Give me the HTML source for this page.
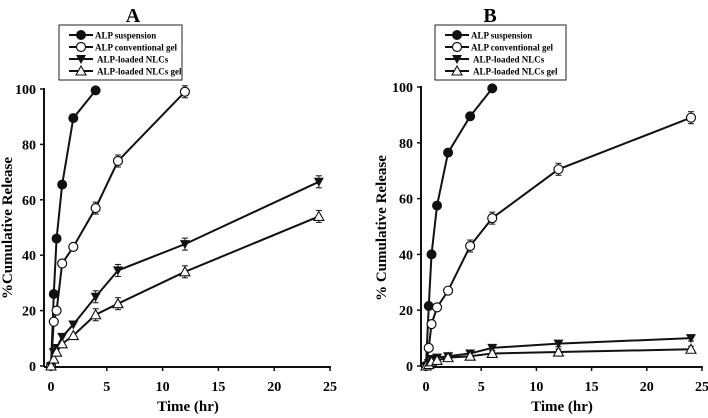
<!DOCTYPE html>
<html><head><meta charset="utf-8"><style>
body{margin:0;background:#fff}
svg{display:block;font-family:"Liberation Serif",serif;font-weight:bold}
</style></head><body>
<svg id="c" width="708" height="418" viewBox="0 0 708 418"></svg>
<script>
const times=[0,0.25,0.5,1,2,4,6,12,24];
const xTicks=[0,5,10,15,20,25];
const yTicks=[0,20,40,60,80,100];
const seriesNames=["ALP suspension","ALP conventional gel","ALP-loaded NLCs","ALP-loaded NLCs gel"];
const aSusp=[0,26,46,65.5,89.5,99.5];
const aConv=[0,16,20,37,43,57,74,99];
const aNlc=[0,5,6.5,10.5,15,25,34.5,44,66.5];
const aNlcGel=[0,2.5,5,8,11,18.5,22.5,34,54];
const bSusp=[0,21.5,40,57.5,76.5,89.5,99.5];
const bConv=[0,6.5,15,21,27,43,53,70.5,89];
const bNlc=[0,1,2.5,3,3.5,4.5,6.5,8,10];
const bNlcGel=[0,0.5,1.5,2,3,3.5,4.5,5,6];

const svg=document.getElementById('c');
const NS='http://www.w3.org/2000/svg';
function mk(tag,at,parent){const e=document.createElementNS(NS,tag);for(const k in at)e.setAttribute(k,at[k]);(parent||svg).appendChild(e);return e;}

function marker(g,type,x,y){
  let e;
  if(type===0){e=mk('circle',{cx:x,cy:y,r:4.5,fill:'#111',stroke:'#111'},g);}
  else if(type===1){e=mk('circle',{cx:x,cy:y,r:4.5,fill:'#fff',stroke:'#111','stroke-width':1.2},g);}
  else if(type===2){e=mk('polygon',{points:`${x-5},${y-4} ${x+5},${y-4} ${x},${y+5}`,fill:'#111'},g);}
  else {e=mk('polygon',{points:`${x-5},${y+4} ${x+5},${y+4} ${x},${y-5}`,fill:'#fff',stroke:'#111','stroke-width':1.1},g);}
  return e;
}

function panel(p){
  const g=mk('g',{});
  
  
  const X=v=>p.x0+(p.x25-p.x0)*v/25;
  const Y=v=>p.y0+(p.y100-p.y0)*v/100;
  const t=mk('text',{x:p.titleX,y:22,'font-size':20,'text-anchor':'middle'},g);t.textContent=p.id;
  
  mk('line',{x1:p.ax,y1:Y(100)-1,x2:p.ax,y2:p.y0+1,stroke:'#111','stroke-width':2},g);
  mk('line',{x1:p.ax,y1:p.y0+1,x2:X(25)+1,y2:p.y0+1,stroke:'#111','stroke-width':2},g);
  yTicks.forEach(v=>{
    mk('line',{x1:p.ax-4,y1:Y(v),x2:p.ax,y2:Y(v),stroke:'#111','stroke-width':1.5},g);
    const l=mk('text',{x:p.ax-8,y:Y(v)+5,'font-size':14,'text-anchor':'end'},g);l.textContent=v;
    
  });
  xTicks.forEach(v=>{
    mk('line',{x1:X(v),y1:p.y0+1,x2:X(v),y2:p.y0+5,stroke:'#111','stroke-width':1.5},g);
    const l=mk('text',{x:X(v),y:p.y0+25,'font-size':14,'text-anchor':'middle'},g);l.textContent=v;
    
  });
  const xl=mk('text',{x:p.xlabX,y:411,'font-size':15,'text-anchor':'middle'},g);xl.textContent='Time (hr)';
  
  const yl=mk('text',{x:0,y:0,'font-size':15,'text-anchor':'middle',transform:`translate(${p.ylabX},228) rotate(-90)`},g);yl.textContent=p.ylab;
  
  p.series.forEach((s,i)=>{
    const sg=mk('g',{},g);
    
    
    const pts=s.map((v,j)=>X(times[j])+','+Y(v)).join(' ');
    mk('polyline',{points:pts,fill:'none',stroke:'#111','stroke-width':2},sg);
    const eb=p.errSmall&&i>=2?3:6;
    s.forEach((v,j)=>{
      if(times[j]>=4&&i>0){const cx=X(times[j]),cy=Y(v);
        mk('line',{x1:cx,y1:cy-eb,x2:cx,y2:cy+eb,stroke:'#111','stroke-width':1},sg);
        mk('line',{x1:cx-3,y1:cy-eb,x2:cx+3,y2:cy-eb,stroke:'#111','stroke-width':1},sg);
        mk('line',{x1:cx-3,y1:cy+eb,x2:cx+3,y2:cy+eb,stroke:'#111','stroke-width':1},sg);}
      const m=marker(sg,i,X(times[j]),Y(v));
      
      
    });
  });
  const lg=mk('g',{},g);
  
  
  mk('rect',{x:p.lx,y:25,width:p.lw,height:55,fill:'#fff',stroke:'#222','stroke-width':1},lg);
  seriesNames.forEach((n,i)=>{
    const y=35+i*12;
    mk('line',{x1:p.lx+10,y1:y,x2:p.lx+34,y2:y,stroke:'#111','stroke-width':2},lg);
    marker(lg,i,p.lx+22,y);
    const tx=mk('text',{x:p.lx+36+(i>=2?2:0),y:y+3.5,'font-size':9},lg);tx.textContent=n;
    
  });
}

panel({id:'A',x0:51,x25:330,y0:366,y100:89,ax:44,titleX:133,xlabX:188,ylabX:12,ylab:'%Cumulative Release',lx:59,lw:123,
  series:[aSusp,aConv,aNlc,aNlcGel]});
panel({id:'B',x0:426,x25:702,y0:366,y100:87,ax:421,titleX:490,xlabX:562,ylabX:386,ylab:'% Cumulative Release',lx:435,lw:131,errSmall:true,
  series:[bSusp,bConv,bNlc,bNlcGel]});
</script>
</body></html>
